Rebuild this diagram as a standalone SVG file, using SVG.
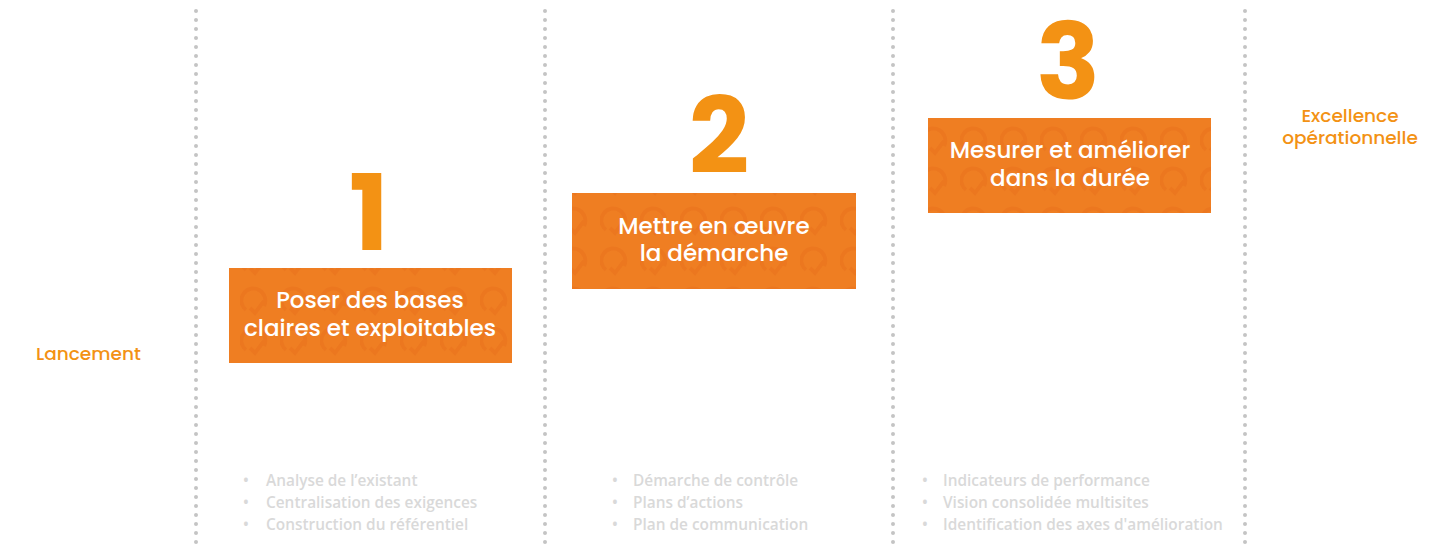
<svg xmlns="http://www.w3.org/2000/svg" width="1440" height="556" viewBox="0 0 1440 556">
<style>
.num{font-family:Poppins,"Inter","Noto Sans",sans-serif;font-weight:700;font-size:106px;fill:#f39214;text-anchor:middle}
.box{fill:#ef7e22}
.bt{font-family:Poppins,"Inter","Noto Sans",sans-serif;font-weight:500;font-size:23px;fill:#ffffff;text-anchor:middle}
.lbl{font-family:Poppins,"Inter","Noto Sans",sans-serif;font-weight:500;font-size:18.5px;fill:#f39214}
.li{font-family:"Open Sans","Noto Sans",sans-serif;font-weight:600;font-size:15.4px;fill:#d9d9d9}
.dots{stroke:#c4c4c4;stroke-width:4;stroke-linecap:round;stroke-dasharray:0 9}
</style>
<defs>
<pattern id="pat" width="40" height="40" patternUnits="userSpaceOnUse">
<path d="M6 30 a12 12 0 1 1 18 -4 M10 28 l5 5 l9 -12" fill="none" stroke="#e9731c" stroke-width="4" opacity="0.6"/>
</pattern>
</defs>
<rect width="1440" height="556" fill="#ffffff"/>
<g id="dividers">
<line class="dots" x1="196" y1="11" x2="196" y2="548"/>
<line class="dots" x1="545" y1="11" x2="545" y2="548"/>
<line class="dots" x1="893" y1="11" x2="893" y2="548"/>
<line class="dots" x1="1245" y1="11" x2="1245" y2="548"/>
</g>
<g id="start"><text class="lbl" x="36" y="360">Lancement</text></g>
<g id="end"><text class="lbl" x="1350" y="122" text-anchor="middle">Excellence</text><text class="lbl" x="1350" y="144" text-anchor="middle">opérationnelle</text></g>
<g id="step1">
<text class="num" x="369" y="250">1</text>
<rect class="box" x="229" y="268" width="283" height="95"/>
<rect x="229" y="268" width="283" height="95" fill="url(#pat)"/>
<text class="bt" x="370" y="308">Poser des bases</text>
<text class="bt" x="370" y="336">claires et exploitables</text>
<g class="li"><text x="243" y="486">•</text><text x="266" y="486">Analyse de l’existant</text>
<text x="243" y="508">•</text><text x="266" y="508">Centralisation des exigences</text>
<text x="243" y="530">•</text><text x="266" y="530">Construction du référentiel</text></g>
</g>
<g id="step2">
<text class="num" x="719" y="173">2</text>
<rect class="box" x="572" y="193" width="284" height="96"/>
<rect x="572" y="193" width="284" height="96" fill="url(#pat)"/>
<text class="bt" x="714" y="234">Mettre en œuvre</text>
<text class="bt" x="714" y="261">la démarche</text>
<g class="li"><text x="612" y="486">•</text><text x="633" y="486">Démarche de contrôle</text>
<text x="612" y="508">•</text><text x="633" y="508">Plans d’actions</text>
<text x="612" y="530">•</text><text x="633" y="530">Plan de communication</text></g>
</g>
<g id="step3">
<text class="num" x="1068" y="99">3</text>
<rect class="box" x="928" y="118" width="283" height="95"/>
<rect x="928" y="118" width="283" height="95" fill="url(#pat)"/>
<text class="bt" x="1070" y="158">Mesurer et améliorer</text>
<text class="bt" x="1070" y="186">dans la durée</text>
<g class="li"><text x="922" y="486">•</text><text x="943" y="486">Indicateurs de performance</text>
<text x="922" y="508">•</text><text x="943" y="508">Vision consolidée multisites</text>
<text x="922" y="530">•</text><text x="943" y="530">Identification des axes d'amélioration</text></g>
</g>
</svg>
